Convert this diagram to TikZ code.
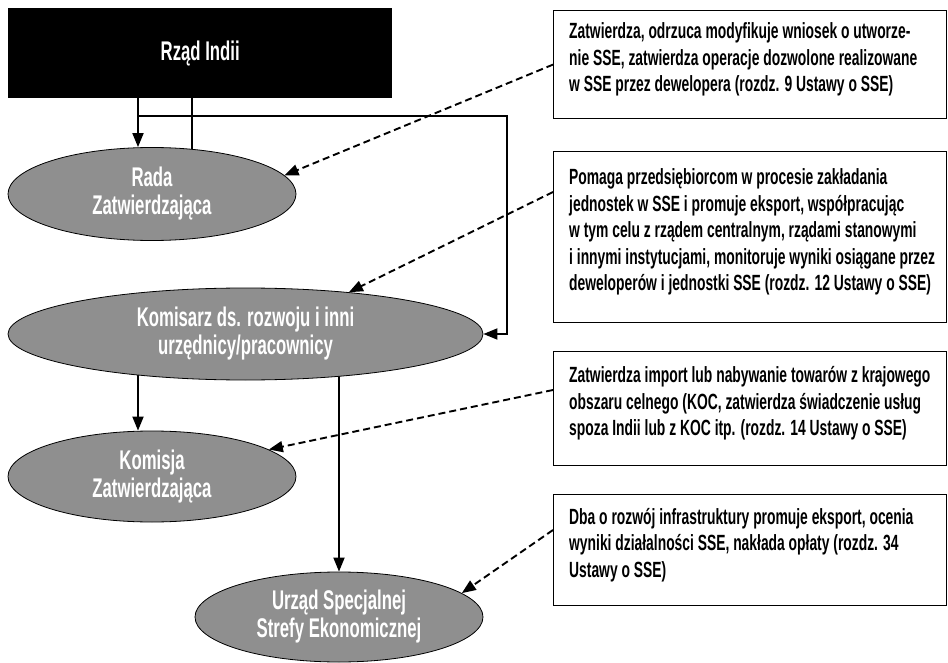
\documentclass[tikz,border=0pt]{standalone}
\usepackage{fontspec}
\setmainfont{Liberation Sans}[FakeStretch=0.62]
\newfontfamily\boxfont{Liberation Sans}[FakeStretch=0.63]
\usetikzlibrary{shapes.geometric,arrows.meta,calc,backgrounds}
\definecolor{ellgray}{RGB}{143,143,143}
\begin{document}
\begin{tikzpicture}[x=1pt,y=-1pt,
  ell/.style={ellipse,draw=black,line width=0.8pt,fill=ellgray,inner sep=0pt,text=white,align=center,font=\bfseries\fontsize{27}{28}\selectfont},
  note/.style={draw=black,line width=1.2pt,rectangle,inner sep=0pt,anchor=north west,minimum width=393pt},
  notetext/.style={anchor=west,align=left,inner sep=0pt,font=\boxfont\bfseries\fontsize{22}{26.5}\selectfont},
  conn/.style={line width=1.8pt},
  arr/.style={conn,-{Triangle[length=14pt,width=11pt]}},
  darr/.style={arr,line width=1.9pt,dash pattern=on 7pt off 4pt}]
\useasboundingbox (0,0) rectangle (948,663);
% main nodes
\node[fill=black,minimum width=384pt,minimum height=90pt,inner sep=0pt,anchor=north west,text=white,font=\bfseries\fontsize{27}{28}\selectfont] (gov) at (8,8) {Rząd Indii};
\node[ell,minimum width=288pt,minimum height=93pt] (rada) at (152,194) {Rada\\Zatwierdzająca};
\node[ell,minimum width=475pt,minimum height=92pt] (kom) at (245.5,334) {Komisarz ds. rozwoju i inni\\urzędnicy/pracownicy};
\node[ell,minimum width=288pt,minimum height=91pt] (komisja) at (152,476.5) {Komisja\\Zatwierdzająca};
\node[ell,minimum width=288pt,minimum height=90pt] (urz) at (339,617) {Urząd Specjalnej\\Strefy Ekonomicznej};
% notes
\node[note,minimum height=108pt] (box1) at (553,10) {};
\node[note,minimum height=171pt] (box2) at (553,151) {};
\node[note,minimum height=114pt] (box3) at (553,351) {};
\node[note,minimum height=111pt] (box4) at (553,494) {};
\node[notetext] (t1) at ($(box1.west)+(16,-5)$) {Zatwierdza, odrzuca modyfikuje wniosek o utworze-\\nie SSE, zatwierdza operacje dozwolone realizowane\\w SSE przez dewelopera (rozdz. 9 Ustawy o SSE)};
\node[notetext] (t2) at ($(box2.west)+(16,-5)$) {Pomaga przedsiębiorcom w procesie zakładania\\jednostek w SSE i promuje eksport, współpracując\\w tym celu z rządem centralnym, rządami stanowymi\\i innymi instytucjami, monitoruje wyniki osiągane przez\\deweloperów i jednostki SSE (rozdz. 12 Ustawy o SSE)};
\node[notetext] (t3) at ($(box3.west)+(16,-5)$) {Zatwierdza import lub nabywanie towarów z krajowego\\obszaru celnego (KOC, zatwierdza świadczenie usług\\spoza Indii lub z KOC itp. (rozdz. 14 Ustawy o SSE)};
\node[notetext] (t4) at ($(box4.west)+(16,-5)$) {Dba o rozwój infrastruktury promuje eksport, ocenia\\wyniki działalności SSE, nakłada opłaty (rozdz. 34\\Ustawy o SSE)};
% helper coordinates
\coordinate (x138) at (138,0);
\coordinate (x192) at (192,0);
\coordinate (br) at (138,116);
\coordinate (brR) at (507,116);
% connectors
\begin{pgfonlayer}{background}
\draw[conn] (gov.south -| x192) -- (rada.center -| x192);
\draw[arr] (kom.center -| x138) -- (komisja.north -| x138);
\draw[arr] (kom.center -| urz.north) -- (urz.north);
\end{pgfonlayer}
\draw[arr] (gov.south -| x138) -- (rada.north -| x138);
\draw[arr] (br) -- (brR) |- (kom.east);
\draw[darr] (box1.west) -- (rada.8);
\draw[darr] ($(box2.north west)+(0,41)$) -- (kom.22);
\draw[darr] ($(box3.north west)+(0,39)$) -- (komisja.13);
\draw[darr] ($(box4.north west)+(0,36)$) -- (urz.11);
\end{tikzpicture}
\end{document}
